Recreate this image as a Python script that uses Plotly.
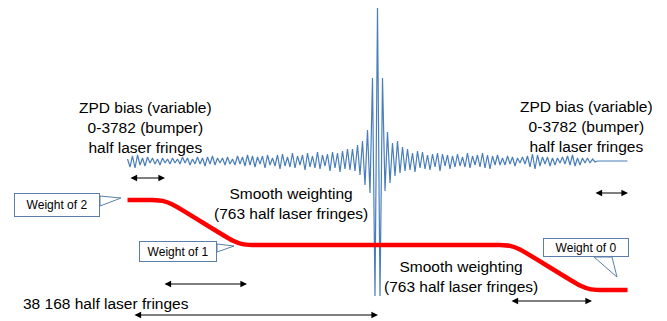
import plotly.graph_objects as go

# ---------------- data ----------------
# interferogram sample index (ZPD at 0) and signal values (arbitrary units)
igm_left = [
    2, -6, 5, -7, 6, -4, 3, -5, 4, -2,
    3, -3, 2, -4, 3, -2, 2, -3, 3, -2,
    2, -3, 4, -2, 3, -4, 2, -3, 4, -3,
    3, -5, 4, -3, 5, -4, 3, -2, 3, -4,
    4, -3, 2, -4, 5, -3, 4, -5, 6, -4,
    5, -6, 4, -3, 5, -7, 6, -4, 3, -5,
    6, -8, 7, -5, 4, -6, 8, -7, 5, -4,
    6, -9, 8, -6, 5, -7, 9, -8, 6, -5,
    7, -10, 9, -7, 8, -11, 10, -8, 12, -9,
    12, -10, 16, -14, 20, -24, 31, -32, 83, -135,
]
igm_zpd = [153]
igm_right = [
    -135, 83, -30, 29, -22, 18, -15, 20, -12, 14,
    -10, 12, -9, 8, -11, 10, -7, 9, -8, 6,
    -9, 7, -6, 8, -10, 7, -5, 6, -8, 5,
    -6, 7, -5, 4, -6, 8, -7, 5, -4, 6,
    -6, 8, -7, 6, -8, 5, -4, 6, -4, 3,
    -4, 5, -3, 4, -5, 3, -2, 4, -3, 5,
    -6, 7, -8, 6, -5, 4, -3, 4, -5, 3,
    -4, 3, -2, 4, -3, 5, -4, 6, -5, 3,
    -4, 3, -2, 3, -2, 2, -1,
]
igm_bumper = [0, 0, 0, 0, 0, 0, 0, 0, 0, 0, 0, 0, 0]
igm_values = igm_left + igm_zpd + igm_right + igm_bumper
igm_index = list(range(-len(igm_left), len(igm_right) + len(igm_bumper) + 1))

# weighting function (sample index, weight)
weight_x = [-100, -90, -86, -82, -58, -54, -50, 49, 53, 57, 81, 85, 89, 100]
weight_y = [2, 2, 1.98, 1.9, 1.1, 1.02, 1, 1, 0.98, 0.9, 0.1, 0.02, 0, 0]

# ---------------- helpers (layout only) ----------------
W, H = 667, 321
ZPD_PX, STEP_PX, BASE_PX = 377.5, 2.5, 161.0
def px2x(px):
    return (px - ZPD_PX) / STEP_PX
def px2y(py):
    return BASE_PX - py

FONT = "Arial, Liberation Sans, sans-serif"
BLUE = "#4A7EBB"
CALLOUT = "#5B7FA8"

fig = go.Figure()
fig.add_trace(go.Scatter(x=igm_index, y=igm_values, mode="lines",
                         line=dict(color=BLUE, width=1.2), yaxis="y", hoverinfo="skip"))
fig.add_trace(go.Scatter(x=weight_x, y=weight_y, mode="lines",
                         line=dict(color="#FF0000", width=4.5, shape="spline", smoothing=0.6),
                         yaxis="y2", hoverinfo="skip"))

# double-headed arrows (pixel positions)
arrows = [(129, 165, 178), (594, 628, 193), (163, 247, 284), (133, 378, 315), (510, 592, 301)]
for x0, x1, yy in arrows:
    fig.add_annotation(x=px2x(x1), y=px2y(yy), ax=px2x(x0), ay=px2y(yy),
                       xref="x", yref="y", axref="x", ayref="y", text="",
                       showarrow=True, arrowhead=2, arrowside="end+start",
                       arrowsize=1.1, arrowwidth=1.2, arrowcolor="black",
                       standoff=0, startstandoff=0)

# text labels
labels = [
    ("ZPD bias (variable)<br>0-3782 (bumper)<br>half laser fringes", 145, 127, "center"),
    ("ZPD bias (variable)<br>0-3782 (bumper)<br>half laser fringes", 586, 126, "center"),
    ("Smooth weighting<br>(763 half laser fringes)", 291, 203, "center"),
    ("Smooth weighting<br>(763 half laser fringes)", 461, 276, "center"),
    ("38 168 half laser fringes", 21, 303, "left"),
]
for txt, px, py, anchor in labels:
    fig.add_annotation(x=px2x(px), y=px2y(py), xref="x", yref="y", text=txt,
                       showarrow=False, xanchor=anchor, yanchor="middle",
                       font=dict(family=FONT, size=15.5, color="black"))

# callouts: wedge shapes + boxes
wedges = [
    [(100, 196), (121, 198), (100, 206)],
    [(217, 244), (234, 246), (217, 252)],
    [(594, 257), (617, 277), (612, 257)],
]
for pts in wedges:
    path = "M {} {} L {} {} L {} {} Z".format(*[v for p in pts for v in (px2x(p[0]), px2y(p[1]))])
    fig.add_shape(type="path", path=path, xref="x", yref="y",
                  line=dict(color=CALLOUT, width=1), fillcolor="white", layer="above")

boxes = [("Weight of 2", 57, 205, 82, 20), ("Weight of 1", 178, 251.5, 74, 17),
         ("Weight of 0", 586, 247.5, 82, 15)]
for txt, px, py, w, h in boxes:
    fig.add_annotation(x=px2x(px), y=px2y(py), xref="x", yref="y", text=txt,
                       showarrow=False, xanchor="center", yanchor="middle",
                       width=w, height=h, bgcolor="white", bordercolor=CALLOUT,
                       borderwidth=1, borderpad=1,
                       font=dict(family=FONT, size=12, color="black"))

fig.update_layout(
    width=W, height=H, margin=dict(l=0, r=0, t=0, b=0),
    paper_bgcolor="white", plot_bgcolor="white", showlegend=False,
    xaxis=dict(range=[px2x(0), px2x(W)], visible=False, fixedrange=True),
    yaxis=dict(range=[px2y(H), px2y(0)], visible=False, fixedrange=True),
    yaxis2=dict(range=[-31 / 45.0, 2 + 200 / 45.0], overlaying="y", visible=False, fixedrange=True),
)
fig.write_html("out.html", config={"displayModeBar": False},
               post_script="document.body.style.margin='0px';document.body.style.overflow='hidden';")
